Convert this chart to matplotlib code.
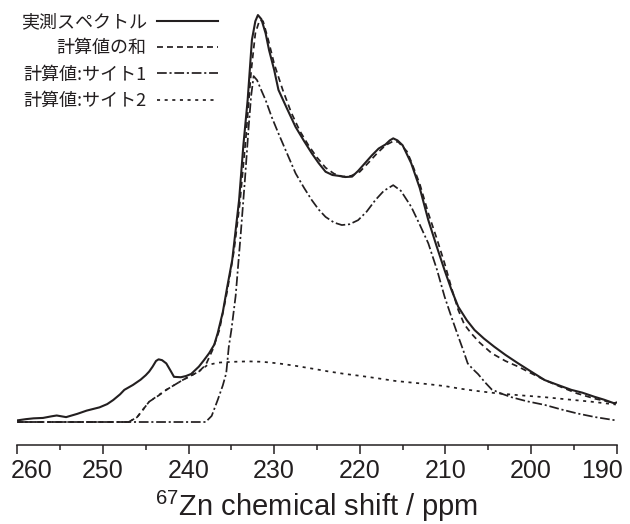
import numpy as np
import matplotlib
matplotlib.use('Agg')
import matplotlib.pyplot as plt
import matplotlib.transforms as mtransforms
from matplotlib.font_manager import FontProperties

plt.rcParams['font.family'] = ['Liberation Sans', 'DejaVu Sans']
plt.rcParams['mathtext.fontset'] = 'custom'
plt.rcParams['mathtext.rm'] = 'Liberation Sans'
plt.rcParams['lines.scale_dashes'] = False

ink = '#231f20'

# experimental spectrum (ppm, normalised intensity)
exp_ppm = [260.0, 259.0, 258.1, 257.0, 256.0, 255.4, 254.3, 253.0, 251.9, 250.4,
           249.5, 248.8, 248.0, 247.5, 246.5, 245.6, 245.0, 244.6, 244.2, 243.8,
           243.5, 243.1, 242.6, 242.1, 241.7, 240.9, 240.3, 239.7, 238.8, 238.2,
           237.6, 237.0, 236.6, 236.0, 235.5, 234.9, 234.1, 233.6, 233.1, 232.6,
           232.2, 231.9, 231.5, 231.0, 230.6, 230.0, 229.5, 228.5, 227.5, 226.5,
           225.6, 224.8, 224.0, 223.2, 222.5, 221.7, 220.9, 220.2, 219.4, 218.6,
           217.8, 217.0, 216.5, 216.1, 215.6, 215.0, 214.0, 213.0, 212.0, 211.0,
           210.1, 209.3, 208.5, 207.5, 206.6, 205.5, 204.3, 203.0, 201.5, 200.0,
           198.4, 197.0, 195.3, 194.0, 192.6, 191.5, 190.3, 190.0]
exp_int = [0.004, 0.007, 0.009, 0.010, 0.014, 0.016, 0.012, 0.020, 0.028, 0.036,
           0.044, 0.054, 0.068, 0.079, 0.091, 0.104, 0.115, 0.124, 0.136, 0.150,
           0.154, 0.152, 0.144, 0.126, 0.111, 0.110, 0.113, 0.118, 0.136, 0.152,
           0.169, 0.190, 0.218, 0.270, 0.330, 0.398, 0.545, 0.680, 0.791, 0.939,
           0.985, 1.000, 0.990, 0.955, 0.914, 0.865, 0.816, 0.770, 0.725, 0.690,
           0.660, 0.636, 0.615, 0.607, 0.605, 0.602, 0.603, 0.617, 0.636, 0.655,
           0.672, 0.682, 0.692, 0.697, 0.692, 0.680, 0.636, 0.575, 0.496, 0.430,
           0.373, 0.325, 0.283, 0.250, 0.226, 0.205, 0.185, 0.165, 0.144, 0.124,
           0.103, 0.092, 0.079, 0.072, 0.062, 0.055, 0.046, 0.048]

# calculated sum
sum_ppm = [260.0, 247.0, 246.0, 244.6, 243.5, 242.6, 240.7, 238.8, 238.0, 237.2,
           236.4, 235.5, 234.7, 234.0, 233.3, 232.7, 232.2, 231.7, 231.3, 230.7,
           230.0, 229.0, 228.0, 227.0, 226.0, 225.0, 224.0, 223.0, 222.0, 221.0,
           220.0, 219.0, 218.0, 217.0, 216.1, 215.5, 214.5, 214.0, 213.0, 212.0,
           211.0, 210.1, 209.3, 208.5, 207.8, 207.0, 206.0, 204.6, 203.0, 201.5,
           200.0, 198.4, 196.5, 194.6, 192.5, 190.1]
sum_int = [0.0, 0.0, 0.012, 0.050, 0.065, 0.079, 0.103, 0.124, 0.140, 0.177,
           0.226, 0.320, 0.420, 0.540, 0.700, 0.860, 0.955, 0.988, 0.985, 0.940,
           0.880, 0.816, 0.760, 0.715, 0.680, 0.650, 0.625, 0.610, 0.603, 0.605,
           0.615, 0.637, 0.660, 0.680, 0.690, 0.688, 0.665, 0.640, 0.585, 0.513,
           0.450, 0.390, 0.330, 0.275, 0.240, 0.218, 0.195, 0.169, 0.150, 0.136,
           0.120, 0.103, 0.086, 0.070, 0.057, 0.046]

# calculated, site 1
s1_ppm = [260.0, 238.0, 237.3, 236.6, 236.0, 235.6, 235.3, 235.0, 234.5, 233.9,
          233.4, 233.0, 232.7, 232.4, 232.0, 231.5, 231.0, 230.3, 229.5, 228.5,
          227.5, 226.5, 225.6, 224.8, 224.0, 223.0, 222.1, 221.2, 220.2, 219.2,
          218.2, 217.2, 216.1, 215.2, 214.0, 213.0, 212.0, 211.0, 210.1, 209.3,
          208.5, 207.9, 207.4, 206.8, 206.2, 205.4, 204.6, 203.5, 202.3, 200.5,
          198.4, 196.5, 194.6, 192.5, 190.1]
s1_int = [0.0, 0.0, 0.015, 0.054, 0.090, 0.120, 0.185, 0.226, 0.310, 0.464,
          0.600, 0.720, 0.800, 0.850, 0.840, 0.815, 0.791, 0.750, 0.709, 0.660,
          0.611, 0.575, 0.545, 0.522, 0.504, 0.490, 0.484, 0.486, 0.496, 0.517,
          0.545, 0.568, 0.582, 0.568, 0.529, 0.485, 0.439, 0.375, 0.308, 0.258,
          0.210, 0.175, 0.144, 0.130, 0.118, 0.098, 0.080, 0.070, 0.061, 0.051,
          0.042, 0.031, 0.021, 0.012, 0.004]

# calculated, site 2
s2_ppm = [260.0, 247.0, 246.0, 244.6, 242.6, 240.7, 238.8, 237.8, 236.5, 234.7,
          233.0, 231.4, 229.5, 227.5, 225.5, 223.6, 221.7, 219.8, 217.8, 215.9,
          214.0, 212.0, 210.0, 208.3, 206.6, 204.2, 201.5, 198.4, 195.5, 193.0,
          190.1]
s2_int = [0.0, 0.0, 0.012, 0.050, 0.079, 0.103, 0.124, 0.140, 0.146, 0.148,
          0.149, 0.148, 0.144, 0.138, 0.131, 0.124, 0.118, 0.113, 0.107, 0.101,
          0.097, 0.093, 0.088, 0.082, 0.077, 0.071, 0.066, 0.061, 0.055, 0.050,
          0.043]

labels = ['実測スペクトル', '計算値の和', '計算値:サイト1', '計算値:サイト2']

fig = plt.figure(figsize=(6.3, 5.24), dpi=100)
ax = fig.add_axes([17.3 / 630, 79 / 524, 599.4 / 630, 445 / 524])

l1, = ax.plot(exp_ppm, exp_int, color=ink, lw=1.5)
l2, = ax.plot(sum_ppm, sum_int, color=ink, lw=1.25, ls=(0, (4.3, 2.9)))
l3, = ax.plot(s1_ppm, s1_int, color=ink, lw=1.25, ls=(0, (7, 2, 1.5, 2)))
l4, = ax.plot(s2_ppm, s2_int, color=ink, lw=1.25, ls=(0, (2.2, 3.3)))

ax.set_xlim(260, 190)
ax.set_ylim(-0.0565, 1.037)
for s in ['left', 'right', 'top']:
    ax.spines[s].set_visible(False)
ax.spines['bottom'].set_linewidth(1.1)
ax.spines['bottom'].set_color(ink)
ax.set_yticks([])
ax.set_xticks(np.arange(260, 189, -10))
ax.set_xticks(np.arange(255, 190, -10), minor=True)
ax.tick_params(axis='x', which='major', direction='out', length=6.5, width=1.1,
               pad=3.5, labelsize=18, colors=ink)
ax.tick_params(axis='x', which='minor', direction='out', length=3.6, width=1.1,
               colors=ink)
ax.set_xlabel(r'$^{67}$Zn chemical shift / ppm', fontsize=21, color=ink, labelpad=4)

# pull the two end labels inside the figure, as in the original
ticks = ax.xaxis.get_major_ticks()
for tk, dx in [(ticks[0], 14), (ticks[-1], -15)]:
    tk.label1.set_transform(tk.label1.get_transform() +
                            mtransforms.ScaledTranslation(dx / 100, 0, fig.dpi_scale_trans))

leg = ax.legend([l1, l2, l3, l4], labels, loc='upper right',
                bbox_to_anchor=(218 / 630, 1 - 13 / 524), bbox_transform=fig.transFigure,
                frameon=False, markerfirst=False, handlelength=3.4, handletextpad=0.55,
                labelspacing=0.46, borderpad=0, borderaxespad=0,
                prop=FontProperties(family=['Noto Sans CJK JP', 'DejaVu Sans'], size=13))
for t in leg.get_texts():
    t.set_color(ink)

fig.savefig('out.png', dpi=100)
